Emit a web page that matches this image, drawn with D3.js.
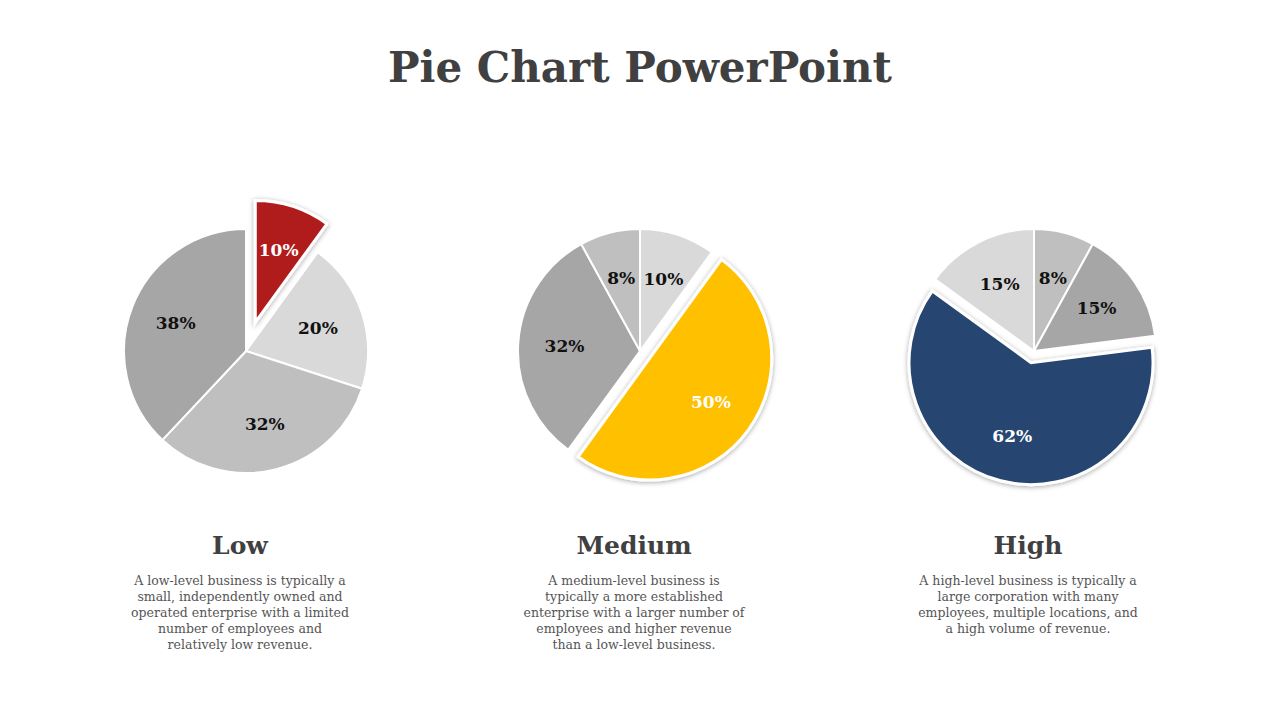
<!DOCTYPE html>
<html><head><meta charset="utf-8">
<script src="https://cdn.jsdelivr.net/npm/d3@7"></script>
<style>body{margin:0;background:#fff}</style></head>
<body><svg id="c" width="1280" height="720"></svg>
<script>
const title = "Pie Chart PowerPoint";
const chartNames = ["Low", "Medium", "High"];
const lowValues = [10, 20, 32, 38];
const mediumValues = [10, 50, 32, 8];
const highValues = [8, 15, 62, 15];
const lowColors = ["#b01f1c", "#d9d9d9", "#bfbfbf", "#a6a6a6"];
const mediumColors = ["#d9d9d9", "#ffc000", "#a6a6a6", "#bfbfbf"];
const highColors = ["#bfbfbf", "#a6a6a6", "#264570", "#d9d9d9"];
const explodedIndex = [0, 1, 2];
const descriptions = [
 ["A low-level business is typically a","small, independently owned and","operated enterprise with a limited","number of employees and","relatively low revenue."],
 ["A medium-level business is","typically a more established","enterprise with a larger number of","employees and higher revenue","than a low-level business."],
 ["A high-level business is typically a","large corporation with many","employees, multiple locations, and","a high volume of revenue."]
];
const allValues = [lowValues, mediumValues, highValues];
const allColors = [lowColors, mediumColors, highColors];
const explodeDist = [30, 12, 12];

const svg = d3.select("#c");
const font = "'DejaVu Serif', serif";
const defs = svg.append("defs");
const f = defs.append("filter").attr("id","sh").attr("x","-20%").attr("y","-20%").attr("width","140%").attr("height","140%");
f.append("feDropShadow").attr("dx",0).attr("dy",1).attr("stdDeviation",2.5).attr("flood-color","#000").attr("flood-opacity",0.35);

svg.append("text").attr("x",640).attr("y",82).attr("text-anchor","middle")
 .attr("font-family",font).attr("font-weight","bold").attr("font-size",42).attr("fill","#404040").text(title);

const cx = d3.scaleOrdinal().domain(chartNames).range([246, 640, 1034]);
const R = 122;
const pie = d3.pie().sort(null).value(d=>d);
const arc = d3.arc().innerRadius(0).outerRadius(R);
const lab = d3.arc().innerRadius(R*0.62).outerRadius(R*0.62);

chartNames.forEach((name, ci) => {
  const g = svg.append("g").attr("transform",`translate(${cx(name)},351)`);
  const arcs = pie(allValues[ci]);
  const ex = explodedIndex[ci];
  const off = d => {
    if (d.index !== ex) return [0,0];
    const a = (d.startAngle + d.endAngle)/2;
    return [Math.sin(a)*explodeDist[ci], -Math.cos(a)*explodeDist[ci]];
  };
  const ordered = arcs.filter(d=>d.index!==ex).concat(arcs.filter(d=>d.index===ex));
  g.selectAll("path").data(ordered).join("path")
   .attr("d", arc)
   .attr("transform", d=>`translate(${off(d)})`)
   .attr("fill", d=>allColors[ci][d.index])
   .attr("stroke","#fff").attr("stroke-width", d=>d.index===ex?3:2)
   .attr("filter", d=>d.index===ex?"url(#sh)":null);
  g.selectAll("text.l").data(arcs).join("text").attr("class","l")
   .attr("transform", d=>{const c=lab.centroid(d);const o=off(d);return `translate(${c[0]+o[0]},${c[1]+o[1]})`;})
   .attr("text-anchor","middle").attr("dy","0.35em")
   .attr("font-family",font).attr("font-weight","bold").attr("font-size",17)
   .attr("fill", d=>d.index===ex?"#fff":"#111")
   .text(d=>d.data+"%");
  svg.append("text").attr("x",cx(name)-6).attr("y",554).attr("text-anchor","middle")
   .attr("font-family",font).attr("font-weight","bold").attr("font-size",25).attr("fill","#404040").text(name);
  const t = svg.append("text").attr("text-anchor","middle").attr("font-family",font).attr("font-size",12.5).attr("fill","#555");
  descriptions[ci].forEach((line,i)=>t.append("tspan").attr("x",cx(name)-6).attr("y",585+i*16).text(line));
});
</script></body></html>
